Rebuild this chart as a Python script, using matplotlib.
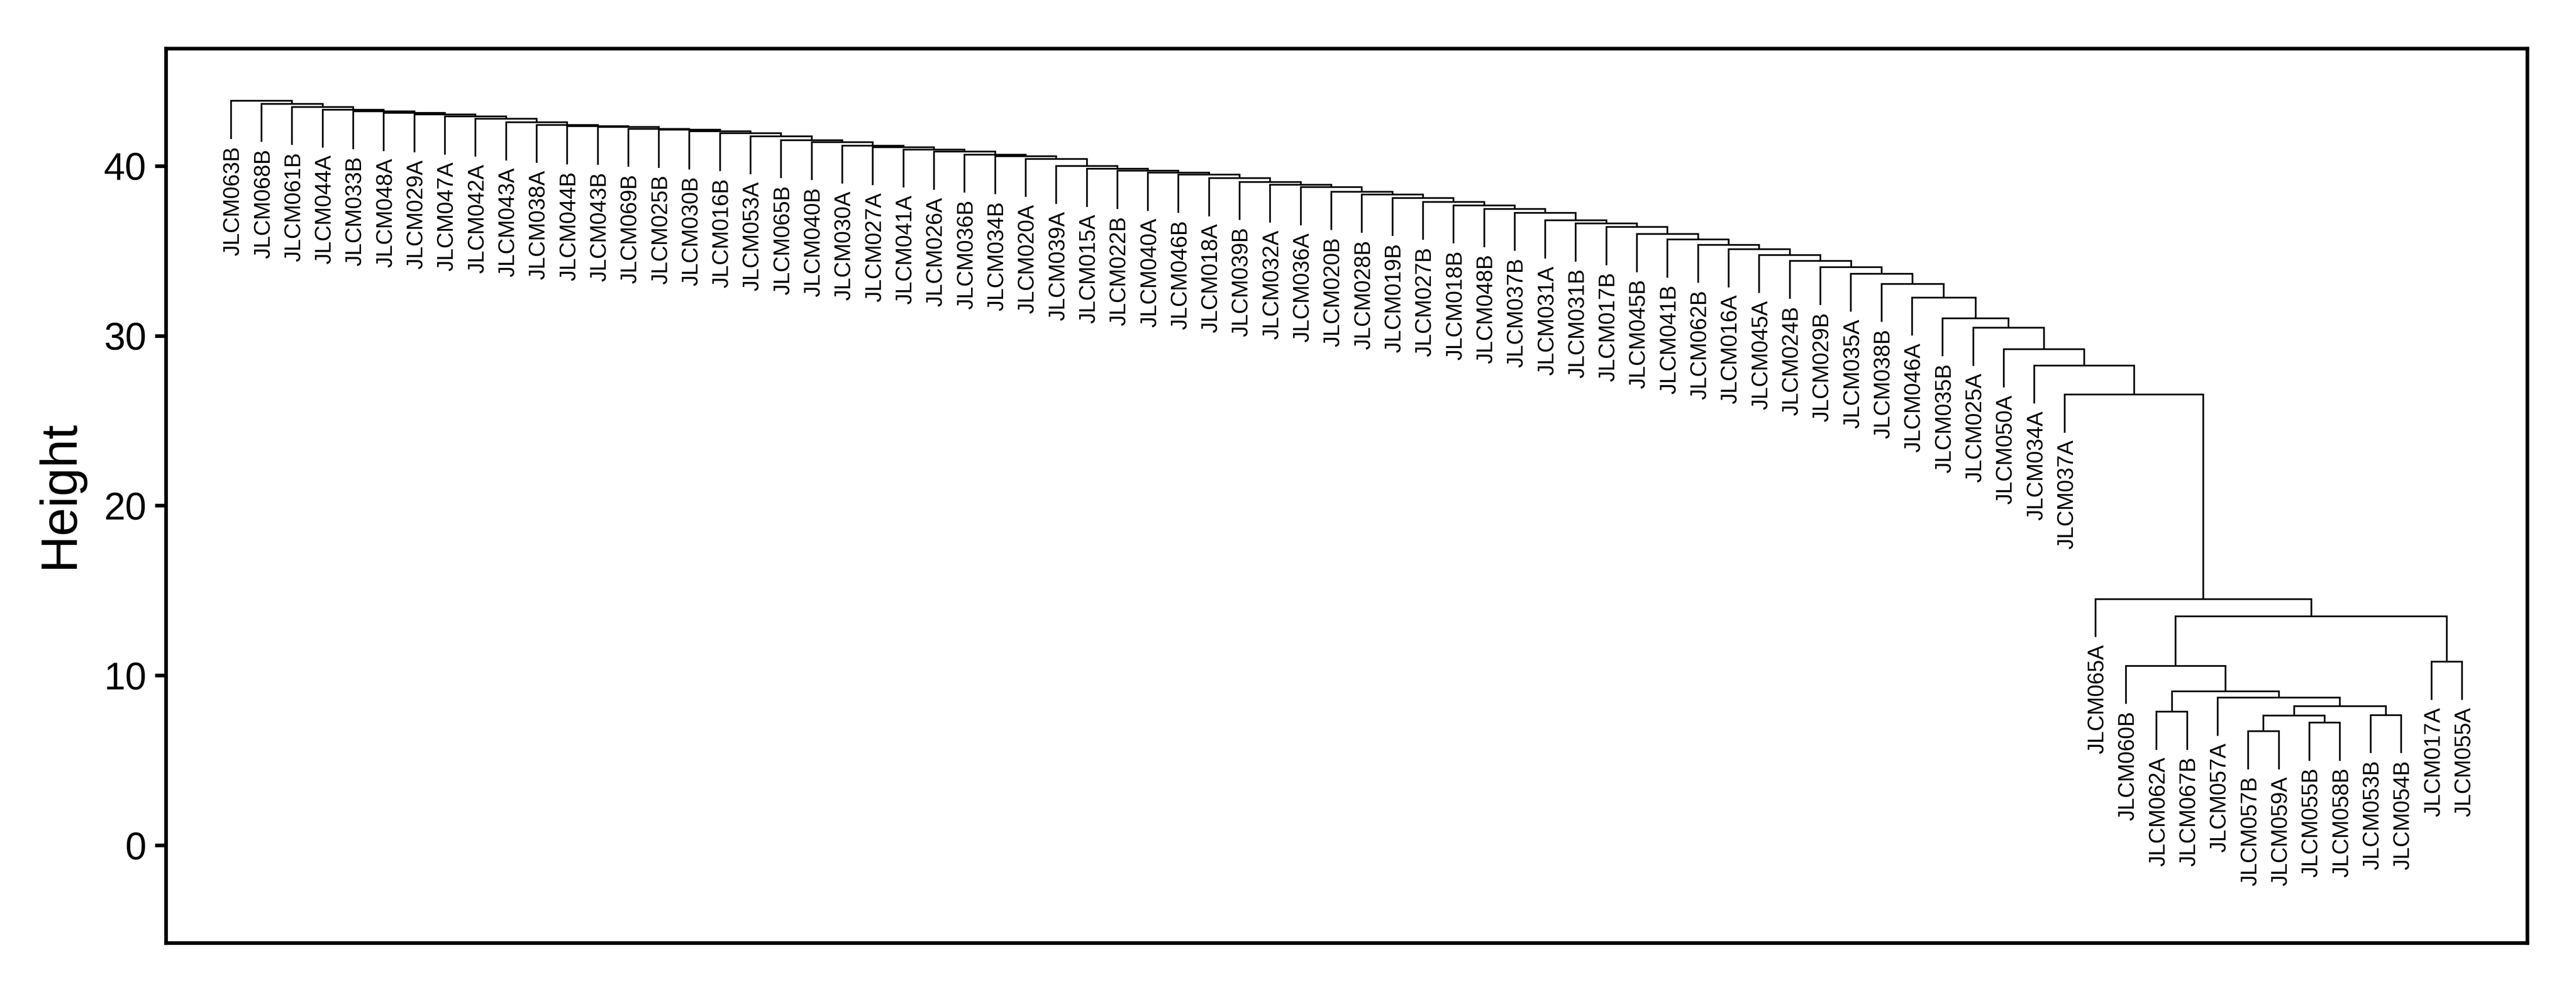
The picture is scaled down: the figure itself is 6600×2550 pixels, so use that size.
import matplotlib.pyplot as plt

plt.rcParams['font.family'] = ['Liberation Sans', 'DejaVu Sans']

# leaves in plotting order (left to right)
leaf_labels = [
    "JLCM063B", "JLCM068B", "JLCM061B", "JLCM044A", "JLCM033B", "JLCM048A",
    "JLCM029A", "JLCM047A", "JLCM042A", "JLCM043A", "JLCM038A", "JLCM044B",
    "JLCM043B", "JLCM069B", "JLCM025B", "JLCM030B", "JLCM016B", "JLCM053A",
    "JLCM065B", "JLCM040B", "JLCM030A", "JLCM027A", "JLCM041A", "JLCM026A",
    "JLCM036B", "JLCM034B", "JLCM020A", "JLCM039A", "JLCM015A", "JLCM022B",
    "JLCM040A", "JLCM046B", "JLCM018A", "JLCM039B", "JLCM032A", "JLCM036A",
    "JLCM020B", "JLCM028B", "JLCM019B", "JLCM027B", "JLCM018B", "JLCM048B",
    "JLCM037B", "JLCM031A", "JLCM031B", "JLCM017B", "JLCM045B", "JLCM041B",
    "JLCM062B", "JLCM016A", "JLCM045A", "JLCM024B", "JLCM029B", "JLCM035A",
    "JLCM038B", "JLCM046A", "JLCM035B", "JLCM025A", "JLCM050A", "JLCM034A",
    "JLCM037A",
    "JLCM065A", "JLCM060B", "JLCM062A", "JLCM067B", "JLCM057A", "JLCM057B",
    "JLCM059A", "JLCM055B", "JLCM058B", "JLCM053B", "JLCM054B", "JLCM017A",
    "JLCM055A",
]

# height at which each of the first 61 leaves joins everything to its right
chain_heights = [
    43.83, 43.66, 43.47, 43.32, 43.22, 43.12, 43.04, 42.91, 42.78, 42.57,
    42.42, 42.34, 42.30, 42.19, 42.13, 42.04, 41.94, 41.75, 41.52, 41.40,
    41.20, 41.11, 40.97, 40.84, 40.67, 40.57, 40.42, 40.00, 39.83, 39.71,
    39.60, 39.48, 39.28, 39.06, 38.90, 38.75, 38.47, 38.31, 38.12, 37.89,
    37.68, 37.46, 37.24, 36.79, 36.61, 36.40, 35.99, 35.67, 35.35, 35.09,
    34.76, 34.42, 34.04, 33.65, 33.06, 32.25, 31.03, 30.47, 29.20, 28.25,
    26.54,
]

# merges of the small cluster at the right: (left, right, height)
# a string is a leaf, an int is a row of this table
cluster_merges = [
    ("JLCM057B", "JLCM059A", 6.71),   # 0
    ("JLCM055B", "JLCM058B", 7.22),   # 1
    ("JLCM053B", "JLCM054B", 7.66),   # 2
    (0, 1, 7.64),                     # 3
    (3, 2, 8.18),                     # 4
    ("JLCM062A", "JLCM067B", 7.86),   # 5
    ("JLCM057A", 4, 8.69),            # 6
    (5, 6, 9.07),                     # 7
    ("JLCM060B", 7, 10.56),           # 8
    ("JLCM017A", "JLCM055A", 10.80),  # 9
    (8, 9, 13.47),                    # 10
    ("JLCM065A", 10, 14.50),          # 11
]

HANG = 2.24


def main():
    pos = {name: i + 1 for i, name in enumerate(leaf_labels)}

    merges = list(cluster_merges)
    for k in range(len(chain_heights) - 1, -1, -1):
        merges.append((leaf_labels[k], len(merges) - 1, chain_heights[k]))

    fig = plt.figure(figsize=(22, 8.5), dpi=300)
    ax = fig.add_axes([0.0644, 0.0533, 0.9167, 0.8979])

    node_x = []
    for left, right, h in merges:
        ends = []
        for child in (left, right):
            if isinstance(child, str):
                cx, cy = pos[child], h - HANG
                ax.annotate(child, (cx, cy), xytext=(0, -4.5), textcoords="offset points",
                            rotation=90, rotation_mode="anchor", ha="right",
                            va="center_baseline", fontsize=13.6)
            else:
                cx, cy = node_x[child], merges[child][2]
            ends.append((cx, cy))
        (xl, yl), (xr, yr) = ends
        ax.plot([xl, xl, xr, xr], [yl, h, h, yr], color="black", lw=1.05,
                solid_joinstyle="miter", solid_capstyle="butt")
        node_x.append((xl + xr) / 2)

    ax.set_xlim(-1.13, 76.13)
    ax.set_ylim(-5.75, 46.91)
    ax.set_xticks([])
    ax.set_yticks([0, 10, 20, 30, 40])
    ax.tick_params(axis="y", labelsize=23.5, length=6.7, width=2.25, pad=5.3)
    for sp in ax.spines.values():
        sp.set_linewidth(2.25)
        sp.set_capstyle("projecting")

    fig.text(0.0283, 0.5035, "Height", rotation=90, rotation_mode="anchor",
             ha="center", va="baseline", fontsize=31.5)

    fig.savefig("out.png", dpi=300)


if __name__ == "__main__":
    main()
